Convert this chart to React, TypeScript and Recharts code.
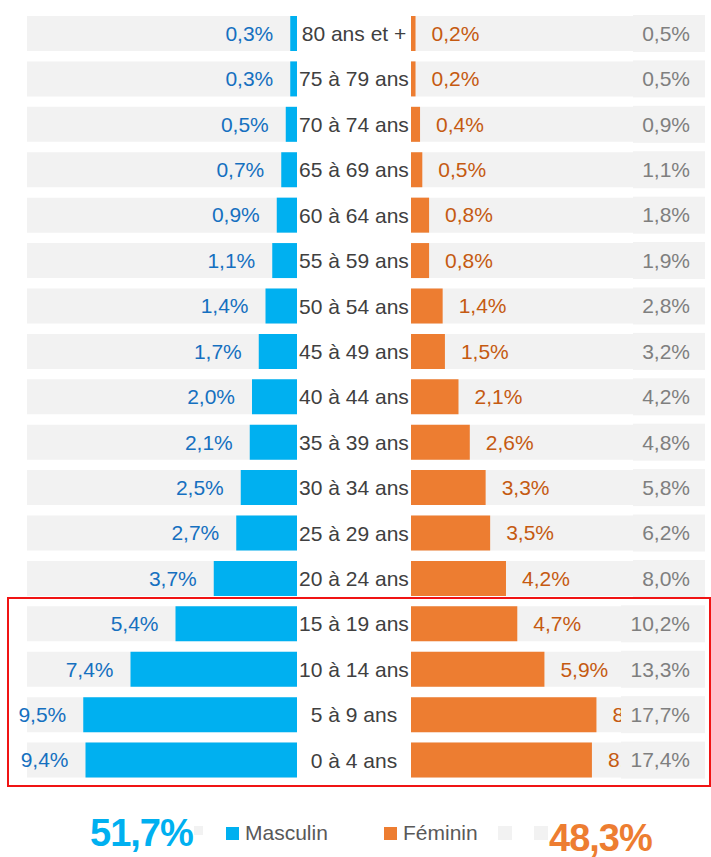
import React from 'react';
import { BarChart, Bar, XAxis, YAxis, LabelList } from 'recharts';

const ages = [
  '80 ans et +', '75 à 79 ans', '70 à 74 ans', '65 à 69 ans', '60 à 64 ans', '55 à 59 ans',
  '50 à 54 ans', '45 à 49 ans', '40 à 44 ans', '35 à 39 ans', '30 à 34 ans', '25 à 29 ans',
  '20 à 24 ans', '15 à 19 ans', '10 à 14 ans', '5 à 9 ans', '0 à 4 ans',
];
const masculin = [0.3, 0.3, 0.5, 0.7, 0.9, 1.1, 1.4, 1.7, 2.0, 2.1, 2.5, 2.7, 3.7, 5.4, 7.4, 9.5, 9.4];
const feminin = [0.2, 0.2, 0.4, 0.5, 0.8, 0.8, 1.4, 1.5, 2.1, 2.6, 3.3, 3.5, 4.2, 4.7, 5.9, 8.2, 8.0];
const totals = [0.5, 0.5, 0.9, 1.1, 1.8, 1.9, 2.8, 3.2, 4.2, 4.8, 5.8, 6.2, 8.0, 10.2, 13.3, 17.7, 17.4];
const totalMasculin = 51.7;
const totalFeminin = 48.3;

const colors = {
  blue: '#00B0F0',
  blueText: '#1570C0',
  orange: '#ED7D31',
  orangeText: '#C55A11',
  band: '#F2F2F2',
  grayText: '#7F7F7F',
  dark: '#404040',
  legend: '#595959',
  red: '#F01414',
} as const;

const FONT = "'Liberation Sans', Arial, sans-serif";

const data = ages.map((age, i) => ({ age, m: masculin[i], f: feminin[i], total: totals[i] }));

const fmt = (v: number) => `${v.toFixed(1).replace('.', ',')}%`;

const AgeTick = (props: any) => {
  const { x, y, payload } = props;
  return (
    <text x={x + 57} y={y} dy="0.35em" textAnchor="middle" fill={colors.dark} fontSize={21}>
      {payload.value}
    </text>
  );
};

const MaleLabel = (props: any) => {
  const { x, y, width, height, value } = props;
  const left = Math.min(x, x + width);
  return (
    <text x={left - 17} y={y + height / 2} dy="0.35em" textAnchor="end" fill={colors.blueText} fontSize={21}>
      {fmt(value)}
    </text>
  );
};

const FemaleLabel = (props: any) => {
  const { x, y, width, height, value } = props;
  const right = Math.max(x, x + width);
  return (
    <text x={right + 16} y={y + height / 2} dy="0.35em" textAnchor="start" fill={colors.orangeText} fontSize={21}>
      {fmt(value)}
    </text>
  );
};

// total column box sits at the right end of the female plot
const TOTAL_RIGHT = 294;
const TotalLabel = (props: any) => {
  const { y, height, value } = props;
  const label = fmt(value);
  const boxLeft = label.length > 4 ? 210 : 222;
  return (
    <g>
      <rect x={boxLeft} y={y - 1} width={TOTAL_RIGHT - boxLeft} height={height + 2} fill={colors.band} />
      <text x={TOTAL_RIGHT - 15} y={y + height / 2} dy="0.35em" textAnchor="end" fill={colors.grayText} fontSize={21}>
        {label}
      </text>
    </g>
  );
};

const Square = ({ color, size = 13 }: { color: string; size?: number }) => (
  <span style={{ display: 'inline-block', width: size, height: size, background: color }} />
);

export default function App() {
  return (
    <div style={{ position: 'absolute', left: 0, top: 0, width: 711, height: 857, overflow: 'hidden', fontFamily: FONT, background: '#fff' }}>
      <div style={{ position: 'absolute', left: 0, top: 0 }}>
        <BarChart width={411} height={783} data={data} layout="vertical" margin={{ top: 11, right: 0, bottom: 0, left: 27 }}>
          <XAxis type="number" domain={[0, 12]} reversed hide />
          <YAxis
            type="category"
            dataKey="age"
            orientation="right"
            width={114}
            axisLine={false}
            tickLine={false}
            tickSize={0}
            tickMargin={0}
            interval={0}
            tick={<AgeTick />}
          />
          <Bar dataKey="m" fill={colors.blue} barSize={35} background={{ fill: colors.band }} isAnimationActive={false}>
            <LabelList dataKey="m" content={<MaleLabel />} />
          </Bar>
        </BarChart>
      </div>
      <div style={{ position: 'absolute', left: 411, top: 0 }}>
        <BarChart width={300} height={783} data={data} layout="vertical" margin={{ top: 11, right: 6, bottom: 0, left: 0 }}>
          <XAxis type="number" domain={[0, 13]} hide />
          <YAxis type="category" dataKey="age" hide />
          <Bar dataKey="f" fill={colors.orange} barSize={35} background={{ fill: colors.band }} isAnimationActive={false}>
            <LabelList dataKey="f" content={<FemaleLabel />} />
            <LabelList dataKey="total" content={<TotalLabel />} />
          </Bar>
        </BarChart>
      </div>
      <div
        style={{
          position: 'absolute', left: 7, top: 597, width: 700, height: 186,
          border: `2px solid ${colors.red}`, pointerEvents: 'none',
        }}
      />
      <div style={{ position: 'absolute', left: 90, top: 816, fontSize: 38, lineHeight: '34px', fontWeight: 700, color: colors.blue, letterSpacing: -1 }}>
        {fmt(totalMasculin)}
      </div>
      <div style={{ position: 'absolute', left: 194, top: 826, lineHeight: 0 }}>
        <Square color={colors.band} size={9} />
      </div>
      <div style={{ position: 'absolute', left: 226, top: 821, display: 'flex', alignItems: 'center', gap: 6, fontSize: 21, color: colors.legend }}>
        <Square color={colors.blue} />
        <span>Masculin</span>
      </div>
      <div style={{ position: 'absolute', left: 384, top: 821, display: 'flex', alignItems: 'center', gap: 6, fontSize: 21, color: colors.legend }}>
        <Square color={colors.orange} />
        <span>Féminin</span>
      </div>
      <div style={{ position: 'absolute', left: 498, top: 826, lineHeight: 0 }}>
        <Square color={colors.band} size={14} />
      </div>
      <div style={{ position: 'absolute', left: 534, top: 826, lineHeight: 0 }}>
        <Square color={colors.band} size={14} />
      </div>
      <div style={{ position: 'absolute', left: 549, top: 821, fontSize: 38, lineHeight: '34px', fontWeight: 700, color: colors.orange, letterSpacing: -1 }}>
        {fmt(totalFeminin)}
      </div>
    </div>
  );
}
